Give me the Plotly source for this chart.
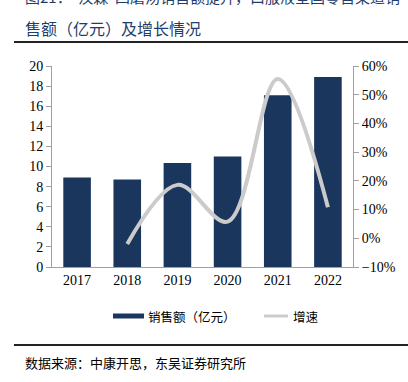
import plotly.graph_objects as go

years = ["2017", "2018", "2019", "2020", "2021", "2022"]
sales = [8.9, 8.7, 10.35, 11.0, 17.1, 18.9]
growth_years = ["2018", "2019", "2020", "2021", "2022"]
growth = [-0.02, 0.186, 0.058, 0.555, 0.108]

BAR = "#1B365D"
LINE = "#CBCBCB"
AX = "#A0A0A0"
TICKFONT = dict(family="Liberation Serif, Times New Roman, serif", size=14, color="#000")
CJK = "Noto Sans CJK SC"

W, H = 408, 382
L, R, T, B = 52, 55, 66, 115
PW, PH = W - L - R, H - T - B

def px(x):
    return (x - L) / PW

def py(y):
    return (H - B - y) / PH

fig = go.Figure()
fig.add_trace(go.Bar(x=years, y=sales, marker_color=BAR, marker_line_width=0,
                     name="销售额（亿元）", showlegend=False))
fig.add_trace(go.Scatter(x=growth_years, y=growth, yaxis="y2", mode="lines",
                         line=dict(color=LINE, width=4, shape="spline", smoothing=1.0),
                         name="增速", showlegend=False))

fig.update_layout(
    width=W, height=H,
    margin=dict(l=L, r=R, t=T, b=B),
    paper_bgcolor="white", plot_bgcolor="white",
    bargap=0.45,
    xaxis=dict(type="category", showline=True, linecolor=AX, linewidth=1,
               ticks="", tickfont=TICKFONT, showgrid=False),
    yaxis=dict(range=[0, 20], dtick=2, showline=True, linecolor=AX, linewidth=1,
               ticks="outside", ticklen=5, tickcolor=AX, tickfont=TICKFONT,
               showgrid=False, zeroline=False),
    yaxis2=dict(range=[-0.1, 0.6], dtick=0.1, tickformat=".0%", overlaying="y",
                side="right", showline=True, linecolor=AX, linewidth=1,
                ticks="outside", ticklen=5, tickcolor=AX, tickfont=TICKFONT,
                showgrid=False, zeroline=False),
)

anns = [
    dict(text="图21：  汉森  四磨汤销售额提升，口服液全国零售渠道销",
         x=px(23), y=py(-3), xanchor="left", yanchor="middle",
         font=dict(family=CJK, size=15, color="#1F3D6B")),
    dict(text="售额（亿元）及增长情况",
         x=px(23), y=py(28), xanchor="left", yanchor="middle",
         font=dict(family=CJK, size=16, color="#1F3D6B")),
    dict(text="销售额（亿元）", x=px(146), y=py(316), xanchor="left", yanchor="middle",
         font=dict(family=CJK, size=12.5, color="#000")),
    dict(text="增速", x=px(291), y=py(316), xanchor="left", yanchor="middle",
         font=dict(family=CJK, size=12.5, color="#000")),
    dict(text="数据来源：中康开思，东吴证券研究所", x=px(23), y=py(362),
         xanchor="left", yanchor="middle",
         font=dict(family=CJK, size=13, color="#000")),
]
for a in anns:
    fig.add_annotation(xref="paper", yref="paper", showarrow=False, **a)

shapes = [
    dict(type="line", x0=px(14), x1=px(408), y0=py(42), y1=py(42),
         line=dict(color="#222", width=2)),
    dict(type="line", x0=px(14), x1=px(408), y0=py(345), y1=py(345),
         line=dict(color="#222", width=2)),
    dict(type="rect", x0=px(113), x1=px(144), y0=py(318.5), y1=py(313.5),
         fillcolor=BAR, line=dict(width=0)),
    dict(type="line", x0=px(264), x1=px(288), y0=py(316), y1=py(316),
         line=dict(color=LINE, width=3)),
]
for s in shapes:
    fig.add_shape(xref="paper", yref="paper", **s)

fig.write_html("out.html", config={"displayModeBar": False},
               post_script="document.body.style.margin='0';document.body.style.overflow='hidden';")
